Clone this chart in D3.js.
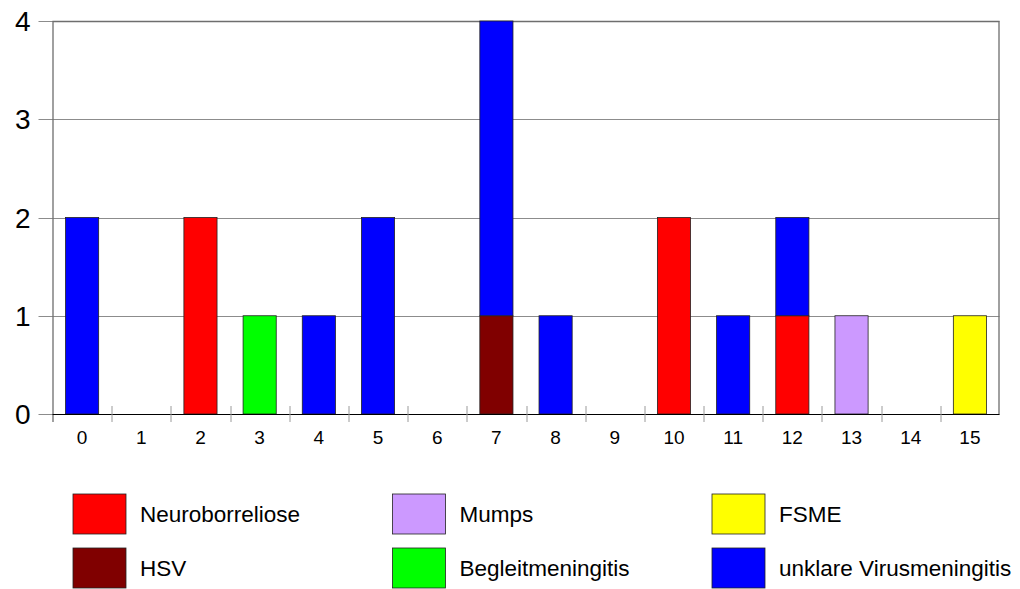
<!DOCTYPE html>
<html>
<head>
<meta charset="utf-8">
<script src="https://cdn.jsdelivr.net/npm/d3@7"></script>
<style>
  body { margin: 0; background: #fff; }
  text { font-family: "Liberation Sans", Arial, sans-serif; fill: #000; }
</style>
</head>
<body>
<div id="chart"></div>
<script>
// categories on the x axis
var categories = ['0','1','2','3','4','5','6','7','8','9','10','11','12','13','14','15'];
// series, bottom to top in each stack
var seriesNames = ['Neuroborreliose','HSV','Mumps','Begleitmeningitis','FSME','unklare Virusmeningitis'];
var seriesColors = ['#ff0000','#800000','#cc99ff','#00ff00','#ffff00','#0000ff'];
var neuro   = [0,0,2,0,0,0,0,0,0,0,2,0,1,0,0,0];
var hsv     = [0,0,0,0,0,0,0,1,0,0,0,0,0,0,0,0];
var mumps   = [0,0,0,0,0,0,0,0,0,0,0,0,0,1,0,0];
var begleit = [0,0,0,1,0,0,0,0,0,0,0,0,0,0,0,0];
var fsme    = [0,0,0,0,0,0,0,0,0,0,0,0,0,0,0,1];
var unklar  = [2,0,0,0,1,2,0,3,1,0,0,1,1,0,0,0];
var yTicks = [0,1,2,3,4];

var width = 1020, height = 589;
var margin = {top: 21, right: 20.5, bottom: 175, left: 52.5};
var plotW = width - margin.left - margin.right;
var plotH = height - margin.top - margin.bottom;

var svg = d3.select('#chart').append('svg')
    .attr('width', width)
    .attr('height', height);

var rows = categories.map(function(c, i){
    return {cat: c, s0: neuro[i], s1: hsv[i], s2: mumps[i], s3: begleit[i], s4: fsme[i], s5: unklar[i]};
});
var keys = ['s0','s1','s2','s3','s4','s5'];
var stacked = d3.stack().keys(keys)(rows);

var x = d3.scaleBand().domain(categories).range([0, plotW]).paddingInner(0.44).paddingOuter(0.22);
var xEdge = d3.scaleLinear().domain([0, categories.length]).range([0, plotW]);
var y = d3.scaleLinear().domain([0, 4]).range([plotH, 0]);

var g = svg.append('g').attr('transform', 'translate(' + margin.left + ',' + margin.top + ')');

// horizontal gridlines, sticking out left of the plot
g.append('g')
    .selectAll('line')
    .data(yTicks)
    .enter().append('line')
        .attr('x1', -14)
        .attr('x2', plotW)
        .attr('y1', function(d){ return Math.round(y(d)) + 0.5; })
        .attr('y2', function(d){ return Math.round(y(d)) + 0.5; })
        .attr('stroke', '#8c8c8c')
        .attr('stroke-width', 1);

// y labels
g.append('g')
    .selectAll('text')
    .data(yTicks)
    .enter().append('text')
        .attr('x', -22)
        .attr('y', function(d){ return y(d) + 10; })
        .attr('font-size', '28px')
        .style('text-anchor', 'end')
        .text(function(d){ return d; });

// plot frame (left, top, right)
g.append('path')
    .attr('d', 'M0.5,' + (plotH + 8) + 'V0.5H' + (plotW - 0.5) + 'V' + plotH)
    .attr('fill', 'none')
    .attr('stroke', '#6e6e6e')
    .attr('stroke-width', 1.3);

// bars
g.append('g')
    .selectAll('g')
    .data(stacked)
    .enter().append('g')
        .attr('fill', function(d, i){ return seriesColors[i]; })
    .selectAll('rect')
    .data(function(d){ return d.filter(function(p){ return p[1] > p[0]; }); })
    .enter().append('rect')
        .attr('x', function(d){ return x(d.data.cat); })
        .attr('width', x.bandwidth())
        .attr('y', function(d){ return y(d[1]); })
        .attr('height', function(d){ return y(d[0]) - y(d[1]); })
        .attr('stroke', '#222')
        .attr('stroke-width', 0.8);

// x axis line
g.append('line')
    .attr('x1', 0).attr('x2', plotW)
    .attr('y1', plotH + 0.5).attr('y2', plotH + 0.5)
    .attr('stroke', '#000')
    .attr('stroke-width', 1.2);

// x ticks at band edges
g.append('g')
    .selectAll('line')
    .data(d3.range(1, categories.length))
    .enter().append('line')
        .attr('x1', function(d){ return Math.round(xEdge(d)) + 0.5; })
        .attr('x2', function(d){ return Math.round(xEdge(d)) + 0.5; })
        .attr('y1', plotH - 8)
        .attr('y2', plotH + 8)
        .attr('stroke', '#9a9a9a')
        .attr('stroke-width', 1);

// x labels
g.append('g')
    .selectAll('text')
    .data(categories)
    .enter().append('text')
        .attr('x', function(d){ return x(d) + x.bandwidth() / 2; })
        .attr('y', plotH + 30)
        .attr('font-size', '19px')
        .style('text-anchor', 'middle')
        .text(function(d){ return d; });

// legend, three columns, filled column by column
var legend = svg.append('g').attr('transform', 'translate(73,494)');
var item = legend.selectAll('g')
    .data(seriesNames)
    .enter().append('g')
        .attr('transform', function(d, i){
            return 'translate(' + (Math.floor(i / 2) * 319.5) + ',' + ((i % 2) * 54) + ')';
        });
item.append('rect')
    .attr('width', 53)
    .attr('height', 40)
    .attr('fill', function(d, i){ return seriesColors[i]; })
    .attr('stroke', '#222')
    .attr('stroke-width', 0.8);
item.append('text')
    .attr('x', 67)
    .attr('y', 28)
    .attr('font-size', '22.5px')
    .text(function(d){ return d; });
</script>
</body>
</html>
